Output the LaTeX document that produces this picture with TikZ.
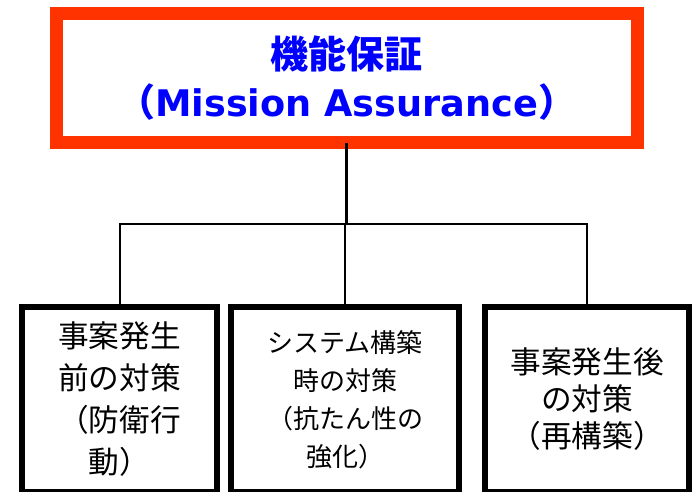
\documentclass[tikz,border=0pt]{standalone}
\usepackage{fontspec}
\newfontfamily\jpfont{Noto Sans CJK JP}
\newfontfamily\lafont{DejaVu Sans}
\definecolor{titlered}{RGB}{255,51,0}
\definecolor{titleblue}{RGB}{0,0,255}
\begin{document}
\begin{tikzpicture}[x=0.75pt, y=-0.75pt, line join=miter]
			\tikzset{top box/.style={draw=titlered, line width=9.75pt, minimum width=435.4pt, minimum height=96.4pt, inner sep=0pt, outer sep=0pt, align=center, text=titleblue, font=\jpfont\bfseries\fontsize{28.5}{36}\selectfont},
				sub box/.style={draw, line width=4.5pt, minimum height=138.75pt, inner sep=0pt, outer sep=0pt, align=center, font=\jpfont\fontsize{23}{31.5}\selectfont},
				link/.style={line width=1.5pt}}
			\useasboundingbox (0,0) rectangle (692,492);
			\node[top box] (goal) at (346.75,78.25) {機能保証\\（{\lafont\fontsize{27.5}{36}\selectfont Mission Assurance}）};
			\node[sub box, minimum width=146.25pt] (before) at (119.5,399.5) {事案発生\\前の対策\\（防衛行\\動）};
			\node[sub box, minimum width=171pt, font=\jpfont\fontsize{19.5}{28.5}\selectfont] (during) at (345,399.5) {システム構築\\時の対策\\（抗たん性の\\強化）};
			\node[sub box, minimum width=153pt, font=\jpfont\fontsize{23}{27.75}\selectfont] (after) at (587,399.5) {事案発生後\\の対策\\（再構築）};
			\coordinate (hub) at (346.75,224);
			\draw[link, line width=2pt] (goal.south) -- (hub);
			\draw[link] (before.north) |- (hub) -| (after.north);
			\draw[link] (during.north) -- (during.north |- hub);
		\end{tikzpicture}
\end{document}
